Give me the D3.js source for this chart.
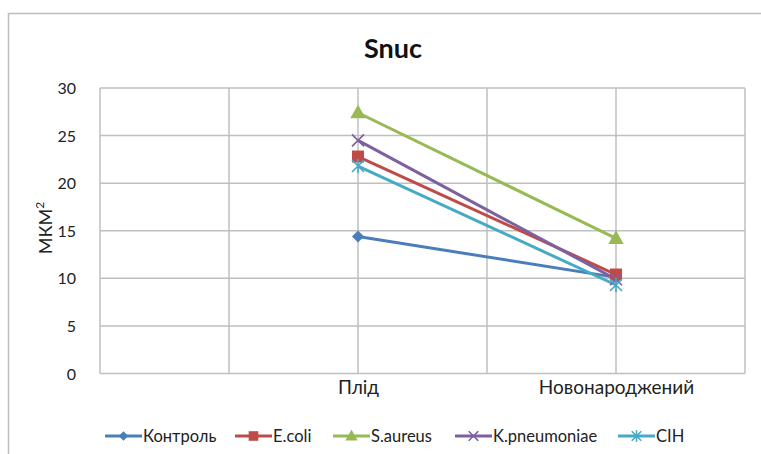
<!DOCTYPE html>
<html><head><meta charset="utf-8">
<script src="https://cdn.jsdelivr.net/npm/d3@7"></script>
<style>body{margin:0;background:#fff}svg{display:block}text{font-family:Lato,"Open Sans",sans-serif;fill:#222}</style>
</head><body><svg id="c" width="761" height="454"></svg>
<script>
const title = "Snuc";
const yLabel = "МКМ";
const slotLabels = ["", "", "Плід", "", "Новонароджений", ""];
const categories = ["Плід", "Новонароджений"];
const yTicks = [0, 5, 10, 15, 20, 25, 30];
const seriesNames = ["Контроль", "E.coli", "S.aureus", "K.pneumoniae", "СІН"];
const kontrol = [14.4, 10.1];
const ecoli = [22.8, 10.4];
const saureus = [27.4, 14.2];
const kpneumoniae = [24.5, 9.9];
const cih = [21.8, 9.3];
const colors = ["#4a7ebb", "#be4b48", "#98b954", "#7d60a0", "#46aac5"];
const markers = ["diamond", "square", "triangle", "x", "star"];

const series = [kontrol, ecoli, saureus, kpneumoniae, cih].map((v, i) => ({name: seriesNames[i], values: v, color: colors[i], marker: markers[i]}));

const svg = d3.select("#c");
const L = 100, R = 745, T = 88, B = 373.5;
const x = d3.scalePoint().domain(d3.range(slotLabels.length)).range([L, R]);
const y = d3.scaleLinear().domain([0, 30]).range([B, T]);
const xCat = c => x(slotLabels.indexOf(c));

// outer frame
svg.append("path").attr("d", "M8.5,454 V13.5 H761").attr("fill", "none").attr("stroke", "#bdbdbd").attr("stroke-width", 1.5);

// title
svg.append("text").attr("x", 393).attr("y", 58).attr("text-anchor", "middle")
  .style("font-size", "27px").style("font-weight", "bold").style("fill", "#111").text(title);

// grid
const g = svg.append("g");
g.selectAll("line.h").data(yTicks).join("line")
  .attr("x1", L).attr("x2", R).attr("y1", d => y(d)).attr("y2", d => y(d))
  .attr("stroke", "#bfbfbf").attr("stroke-width", 1.5);
g.selectAll("line.v").data(d3.range(slotLabels.length)).join("line")
  .attr("x1", d => x(d)).attr("x2", d => x(d)).attr("y1", T).attr("y2", B)
  .attr("stroke", "#bfbfbf").attr("stroke-width", 1.5);

// y axis
const ya = svg.append("g").attr("transform", `translate(${L},0)`)
  .call(d3.axisLeft(y).tickValues(yTicks).tickSize(0).tickPadding(24));
ya.select(".domain").remove();
ya.selectAll("text").style("font-size", "16px").style("font-family", "Lato, sans-serif").style("fill", "#222").attr("dy", "0.35em");

// x axis labels
const xa = svg.append("g").attr("transform", `translate(0,${B})`)
  .call(d3.axisBottom(x).tickValues(d3.range(slotLabels.length)).tickFormat(i => slotLabels[i]).tickSize(0).tickPadding(7));
xa.select(".domain").remove();
xa.selectAll("text").style("font-size", "19px").style("font-family", "Lato, sans-serif").style("fill", "#222");

// y label
const yl = svg.append("text").attr("transform", `translate(52,228) rotate(-90)`).attr("text-anchor", "middle").style("font-size", "18px");
yl.append("tspan").text(yLabel);
yl.append("tspan").attr("dy", "-8").style("font-size", "12px").text("2");

const line = d3.line().x((d, i) => xCat(categories[i])).y(d => y(d));

function drawMarker(sel, type, color, s) {
  if (type === "diamond") sel.append("path").attr("d", `M0,${-s} L${s},0 L0,${s} L${-s},0Z`).attr("fill", color);
  else if (type === "square") sel.append("rect").attr("x", -s).attr("y", -s).attr("width", 2*s).attr("height", 2*s).attr("fill", color);
  else if (type === "triangle") sel.append("path").attr("d", `M0,${-s*1.15} L${s*1.1},${s*0.8} L${-s*1.1},${s*0.8}Z`).attr("fill", color);
  else if (type === "x") sel.append("path").attr("d", `M${-s},${-s} L${s},${s} M${-s},${s} L${s},${-s}`).attr("stroke", color).attr("stroke-width", 1.6);
  else if (type === "star") sel.append("path").attr("d", `M${-s},${-s} L${s},${s} M${-s},${s} L${s},${-s} M0,${-s*1.2} L0,${s*1.2}`).attr("stroke", color).attr("stroke-width", 1.6);
}
const markerSize = {diamond: 6, square: 6, triangle: 7, x: 6, star: 6};

series.forEach(s => {
  svg.append("path").datum(s.values).attr("d", line).attr("fill", "none").attr("stroke", s.color).attr("stroke-width", 3);
});
series.forEach(s => {
  s.values.forEach((v, i) => {
    const m = svg.append("g").attr("transform", `translate(${xCat(categories[i])},${y(v)})`);
    drawMarker(m, s.marker, s.color, markerSize[s.marker]);
  });
});

// legend
const legX = [105, 235, 333, 455, 618];
series.forEach((s, i) => {
  const lg = svg.append("g").attr("transform", `translate(${legX[i]},436)`);
  lg.append("line").attr("x1", 0).attr("x2", 37).attr("stroke", s.color).attr("stroke-width", 3);
  const m = lg.append("g").attr("transform", "translate(18.5,0)");
  drawMarker(m, s.marker, s.color, markerSize[s.marker] * 0.8);
  lg.append("text").attr("x", 38).attr("dy", "0.35em").style("font-size", "16.5px").text(s.name);
});
</script></body></html>
